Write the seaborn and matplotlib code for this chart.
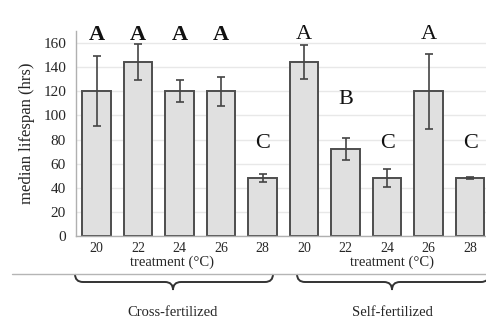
import matplotlib
matplotlib.use("Agg")
import matplotlib.pyplot as plt
import matplotlib.patches as mpatches
from matplotlib.path import Path
import numpy as np
import pandas as pd
import seaborn as sns

# data
groups = ["Cross-fertilized"] * 5 + ["Self-fertilized"] * 5
temps = ["20", "22", "24", "26", "28", "20", "22", "24", "26", "28"]
lifespan = [120, 144, 120, 120, 48, 144, 72, 48, 120, 48]
err = [29, 15, 9, 12, 3, 14, 9, 7.5, 31, 1]
letters = ["A", "A", "A", "A", "C", "A", "B", "C", "A", "C"]
yticks = [0, 20, 40, 60, 80, 100, 120, 140, 160]

# where each significance letter sits (y in data units) and how heavy it is
letter_y = {"A": 167, "B": 113, "C": 77}
letter_weight = ["bold"] * 4 + ["normal"] * 6

W, H = 486, 322


def px(x, y):
    return (x / W, 1 - y / H)


def brace(fig, x1, x2, tip, ytop=274, yflat=282, ytip=290, r=8):
    pts = [px(x1, ytop), px(x1, yflat), px(x1 + r, yflat),
           px(tip - r, yflat), px(tip, yflat), px(tip, ytip),
           px(tip, yflat), px(tip + r, yflat),
           px(x2 - r, yflat), px(x2, yflat), px(x2, ytop)]
    codes = [Path.MOVETO, Path.CURVE3, Path.CURVE3,
             Path.LINETO, Path.CURVE3, Path.CURVE3,
             Path.CURVE3, Path.CURVE3,
             Path.LINETO, Path.CURVE3, Path.CURVE3]
    patch = mpatches.PathPatch(Path(pts, codes), transform=fig.transFigure,
                               fill=False, edgecolor="#333333", lw=1.4)
    fig.patches.append(patch)


df = pd.DataFrame({
    "key": [f"{g[:4]}-{t}" for g, t in zip(groups, temps)],
    "group": groups,
    "temp": temps,
    "lifespan": lifespan,
})

sns.set_style("white")
serif = ["Liberation Serif", "DejaVu Serif"]
plt.rcParams["font.family"] = serif

fig = plt.figure(figsize=(4.86, 3.22), dpi=100)
ax = fig.add_axes([0.156, 0.267, 0.854, 0.637])

sns.barplot(data=df, x="key", y="lifespan", color="#e0e0e0", saturation=1,
            edgecolor="#4d4d4d", linewidth=1.4, width=0.68, errorbar=None,
            ax=ax, zorder=2)
ax.errorbar(np.arange(len(lifespan)), lifespan, yerr=err, fmt="none",
            ecolor="#444444", elinewidth=1.2, capsize=3, capthick=1.2, zorder=3)

for i, lab in enumerate(letters):
    ax.text(i, letter_y[lab], lab, ha="center", va="center",
            fontsize=16, color="#111111", fontweight=letter_weight[i])

ax.set_ylim(0, 170)
ax.set_xlim(-0.5, len(lifespan) - 0.5)
ax.set_yticks(yticks)
ax.set_yticklabels([str(t) for t in yticks], fontsize=11)
ax.set_xticks(np.arange(len(temps)))
ax.set_xticklabels(temps, fontsize=10)
ax.set_xticks(np.arange(-0.5, len(temps)), minor=True)
ax.tick_params(axis="x", which="major", length=0, pad=4)
ax.tick_params(axis="x", which="minor", length=4, color="#aaaaaa")
ax.tick_params(axis="y", length=4, color="#aaaaaa", pad=3)
ax.set_xlabel("")
ax.set_ylabel("median lifespan (hrs)", fontsize=12, labelpad=6)

ax.yaxis.grid(True, color="#e8e8e8", lw=1, zorder=0)
ax.set_axisbelow(True)
for s in ["top", "right"]:
    ax.spines[s].set_visible(False)
for s in ["left", "bottom"]:
    ax.spines[s].set_color("#b0b0b0")
    ax.spines[s].set_linewidth(1)

# axis titles under each group
for x in (172, 392):
    fig.text(*px(x, 262), "treatment (°C)", ha="center", va="center",
             fontsize=10.5)

# separator line and braces
fig.add_artist(plt.Line2D([12 / W, 1], [1 - 274 / H] * 2,
                          transform=fig.transFigure, color="#b5b5b5", lw=1))
brace(fig, 75, 273, 173)
brace(fig, 297, 489, 392)

fig.text(*px(173, 312), "Cross-fertilized", ha="center", va="center", fontsize=10.5)
fig.text(*px(392, 312), "Self-fertilized", ha="center", va="center", fontsize=10.5)

fig.savefig("out.png", dpi=100)
